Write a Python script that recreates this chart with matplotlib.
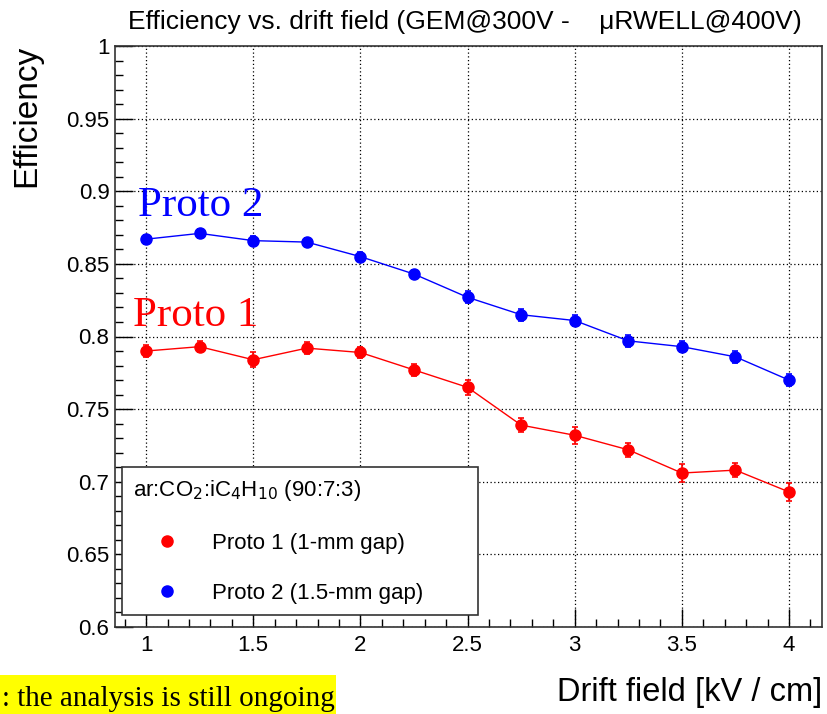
import matplotlib.pyplot as plt
import numpy as np
from matplotlib.lines import Line2D
from matplotlib.patches import Rectangle
from matplotlib.ticker import MultipleLocator

plt.rcParams['font.family'] = ['Liberation Sans', 'DejaVu Sans']

field = [1.0, 1.25, 1.5, 1.75, 2.0, 2.25, 2.5, 2.75, 3.0, 3.25, 3.5, 3.75, 4.0]
eff_p1 = [0.790, 0.793, 0.784, 0.792, 0.789, 0.777, 0.765, 0.739, 0.732, 0.722, 0.706, 0.708, 0.693]
err_p1 = [0.004, 0.004, 0.005, 0.004, 0.004, 0.004, 0.005, 0.005, 0.006, 0.005, 0.006, 0.005, 0.006]
eff_p2 = [0.867, 0.871, 0.866, 0.865, 0.855, 0.843, 0.827, 0.815, 0.811, 0.797, 0.793, 0.786, 0.770]
err_p2 = [0.003, 0.003, 0.003, 0.003, 0.003, 0.003, 0.004, 0.004, 0.004, 0.004, 0.004, 0.004, 0.004]

fig = plt.figure(figsize=(8.28, 7.14), dpi=100)
ax = fig.add_axes([115/828, 1-627/714, 707/828, 581/714])

ax.errorbar(field, eff_p1, yerr=err_p1, color="red", marker="o", ms=8, lw=1,
            elinewidth=1.2, capsize=2.5, capthick=1.2, zorder=3)
ax.errorbar(field, eff_p2, yerr=err_p2, color="blue", marker="o", ms=8, lw=1,
            elinewidth=1.2, capsize=2.5, capthick=1.2, zorder=3)

ax.set_xlim(0.855, 4.154)
ax.set_ylim(0.6, 1.0)
ax.xaxis.set_minor_locator(MultipleLocator(0.1))
ax.yaxis.set_minor_locator(MultipleLocator(0.01))
ax.set_xticks([1, 1.5, 2, 2.5, 3, 3.5, 4], ["1", "1.5", "2", "2.5", "3", "3.5", "4"])
ax.set_yticks([0.6, 0.65, 0.7, 0.75, 0.8, 0.85, 0.9, 0.95, 1.0],
              ["0.6", "0.65", "0.7", "0.75", "0.8", "0.85", "0.9", "0.95", "1"])
ax.tick_params(which="both", direction="in", labelsize=16, top=False, right=False)
ax.tick_params(which="major", length=13, width=1)
ax.tick_params(which="minor", length=6, width=1)
ax.tick_params(axis="x", pad=6)
ax.tick_params(axis="y", pad=4)
ax.grid(True, which="major", color="black", ls=(0, (1, 2)), lw=0.9)
for s in ax.spines.values():
    s.set_color("#333333")
    s.set_linewidth(1.2)

fig.text(465/828, 1-22/714, "Efficiency vs. drift field (GEM@300V -    \u03bcRWELL@400V)",
         ha="center", va="center", fontsize=19)
fig.text(27/828, 1-45/714, "Efficiency", rotation=90, ha="center", va="top", fontsize=24)
fig.text(822/828, 1-693/714, "Drift field [kV / cm]", ha="right", va="center", fontsize=23.5)

ax.text(0.963, 0.883, "Proto 2", color="blue", fontsize=31, family="Liberation Serif", va="baseline")
ax.text(0.94, 0.807, "Proto 1", color="red", fontsize=31, family="Liberation Serif", va="baseline")

# legend
handles = [Line2D([], [], color="red", marker="o", ls="none", ms=8),
           Line2D([], [], color="blue", marker="o", ls="none", ms=8)]
leg = ax.legend(handles, ["Proto 1 (1-mm gap)", "Proto 2 (1.5-mm gap)"],
                title="ar:CO$_2$:iC$_4$H$_{10}$ (90:7:3)", title_fontsize=16, fontsize=16,
                loc="lower left", bbox_to_anchor=(0.01, 0.0207, 0.503, 0.25), mode="expand",
                fancybox=False, framealpha=1, edgecolor="#333333", borderpad=0.5,
                labelspacing=1.32, handletextpad=0.55, borderaxespad=0, handlelength=3.0)
leg._legend_box.align = "left"
leg.get_frame().set_linewidth(1.2)

# yellow note box at bottom left
fig.patches.append(Rectangle((0, 0), 336/828, 39/714, transform=fig.transFigure,
                             facecolor="yellow", edgecolor="none"))
fig.text(2/828, 1-706/714, ": the analysis is still ongoing", fontsize=21,
         family="Liberation Serif", va="baseline", ha="left")

plt.savefig("out.png", dpi=100)
